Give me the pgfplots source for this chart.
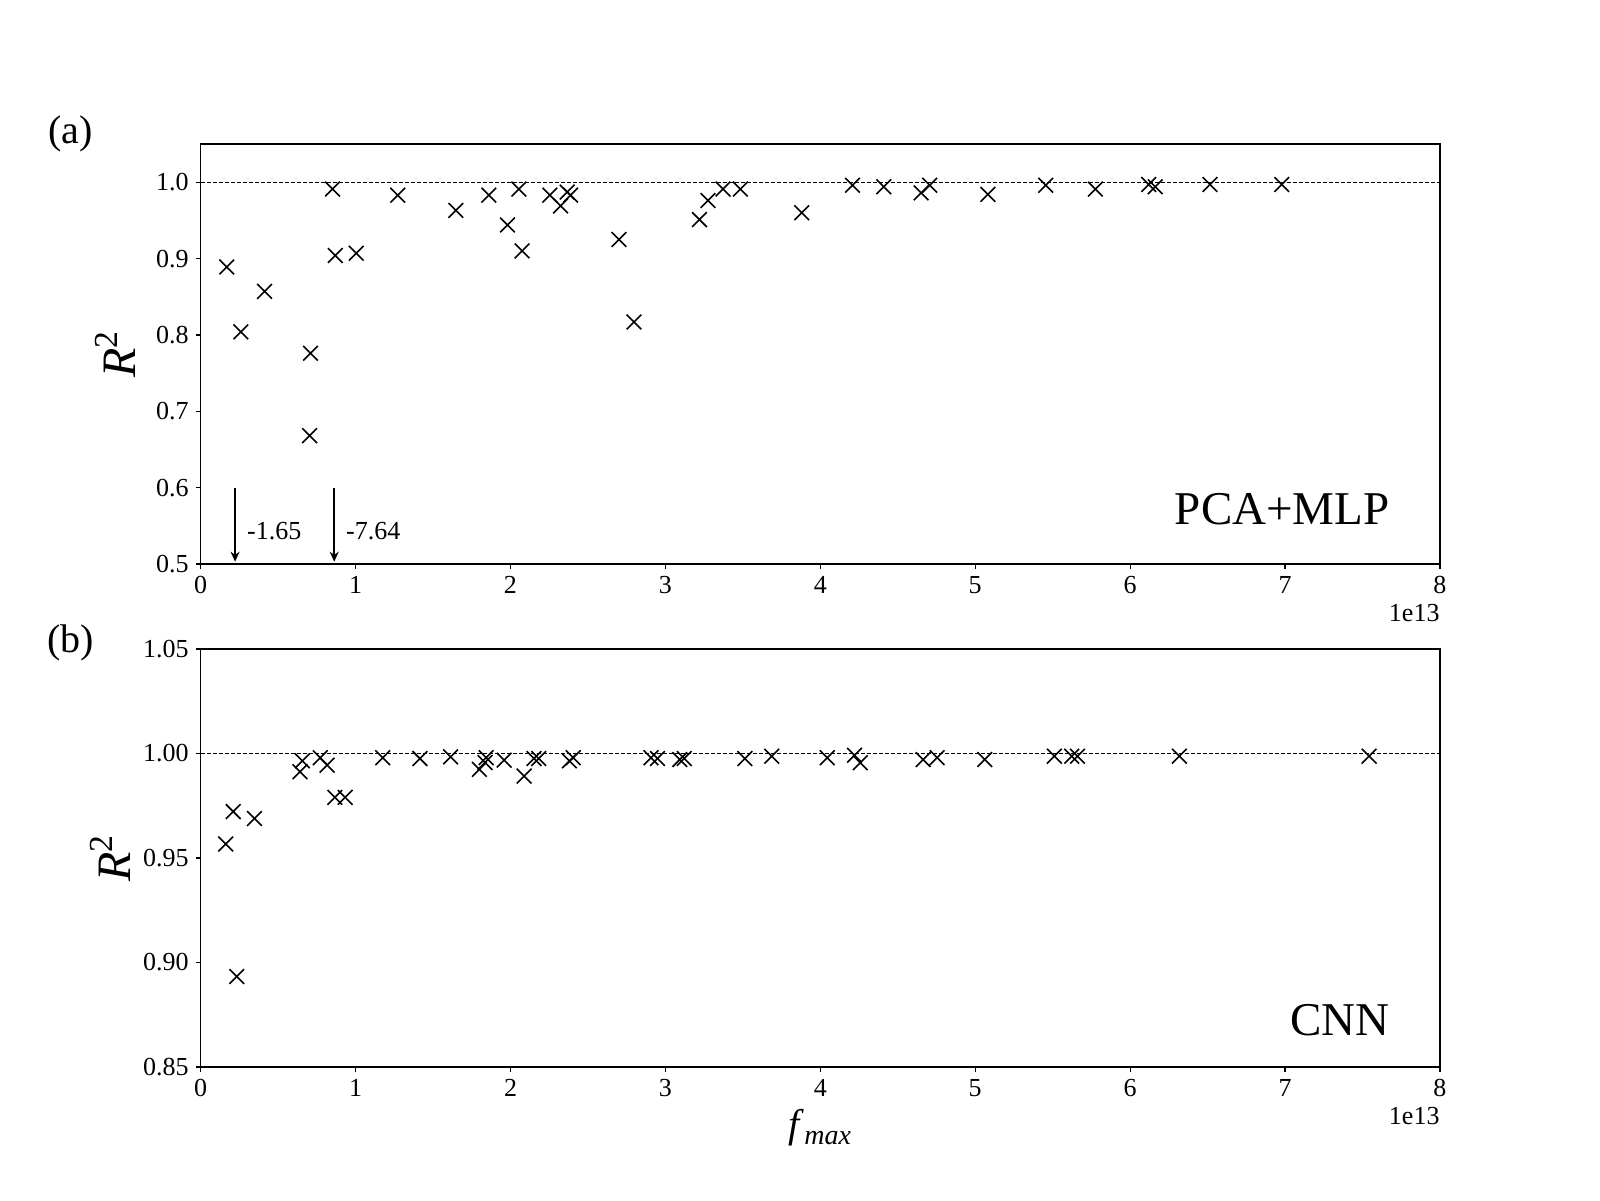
\documentclass[border=0pt]{standalone}
\usepackage{fontspec}
\setmainfont{Liberation Serif}
\usepackage{pgfplots}
\pgfplotsset{compat=1.18}
\usetikzlibrary{arrows.meta}

\pgfplotsset{
  panel/.style={
    scale only axis,
    width=619.6pt,
    anchor=south west,
    clip=false,
    xmin=0, xmax=8,
    xtick={0,1,...,8},
    axis line style={line width=0.6pt},
    tick style={black, line width=0.6pt, major tick length=2.5pt},
    tick align=outside,
    xtick pos=bottom, ytick pos=left,
    tick label style={font=\fontsize{13}{15}\selectfont},
    /pgf/number format/assume math mode=true,
    ylabel style={at={(rel axis cs:0,0.5)}, anchor=center,
                  font=\fontsize{24}{26}\selectfont},
  },
  pts/.style={only marks, mark=x, mark size=5.2pt, black,
              mark options={line width=0.8pt}},
  ref/.style={black, line width=0.55pt, dash pattern=on 2pt off 1pt},
}
\tikzset{
  arr/.style={line width=1.1pt, -{Stealth[length=5pt,width=4.5pt]}},
  small/.style={anchor=west, inner sep=0pt, font=\fontsize{13}{15}\selectfont},
}

\begin{document}
\begin{tikzpicture}
\path[use as bounding box] (0,0) rectangle (800pt,600pt);

% (a) PCA+MLP
\begin{axis}[panel,
  at={(100.35pt,318pt)}, height=210pt,
  ymin=0.5, ymax=1.05,
  ytick={0.5,0.6,0.7,0.8,0.9,1.0},
  yticklabel style={/pgf/number format/.cd, fixed, fixed zerofill, precision=1},
  ylabel={\textit{R}\textsuperscript{2}},
  ylabel style={yshift=42.5pt},
]
\addplot[ref] coordinates {(0,1) (8,1)};
\addplot[pts] coordinates {
  (0.168,0.889) (0.259,0.804) (0.412,0.857) (0.709,0.776) (0.703,0.668)
  (0.851,0.991) (0.869,0.904) (1.004,0.907) (1.272,0.983) (1.647,0.963)
  (1.860,0.983) (1.981,0.944) (2.054,0.991) (2.075,0.910) (2.254,0.983)
  (2.323,0.969) (2.366,0.987) (2.388,0.983) (2.700,0.925) (2.797,0.817)
  (3.220,0.951) (3.275,0.976) (3.372,0.991) (3.484,0.991) (3.880,0.960)
  (4.208,0.996) (4.410,0.994) (4.651,0.986) (4.706,0.996) (5.082,0.984)
  (5.455,0.996) (5.776,0.991) (6.120,0.997) (6.162,0.994) (6.516,0.997)
  (6.979,0.997)
};
\draw[arr] (axis cs:0.222,0.600) -- (axis cs:0.222,0.503);
\draw[arr] (axis cs:0.862,0.600) -- (axis cs:0.862,0.503);
\node[small] at (axis cs:0.297,0.543) {-1.65};
\node[small] at (axis cs:0.937,0.543) {-7.64};
\node[anchor=east, inner sep=0pt, font=\fontsize{23.5}{26}\selectfont] at (rel axis cs:0.9597,0.130) {PCA+MLP};
\node[anchor=east, inner sep=0pt, font=\fontsize{13}{15}\selectfont, yshift=-24.3pt] at (rel axis cs:1,0) {1e13};
\node[inner sep=0pt, font=\fontsize{20}{22}\selectfont, xshift=-65pt, yshift=5pt] at (rel axis cs:0,1) {(a)};
\end{axis}

% (b) CNN
\begin{axis}[panel,
  at={(100.35pt,66.5pt)}, height=209pt,
  ymin=0.85, ymax=1.05,
  ytick={0.85,0.90,0.95,1.00,1.05},
  yticklabel style={/pgf/number format/.cd, fixed, fixed zerofill, precision=2},
  ylabel={\textit{R}\textsuperscript{2}},
  ylabel style={yshift=45pt},
  xlabel={\textit{f}\textsubscript{\textit{max}}},
  xlabel style={at={(rel axis cs:0.5,0)}, anchor=center, yshift=-30.5pt,
                font=\fontsize{20}{22}\selectfont},
]
\addplot[ref] coordinates {(0,1) (8,1)};
\addplot[pts] coordinates {
  (0.161,0.9567) (0.210,0.9722) (0.233,0.8933) (0.347,0.9689) (0.641,0.9913)
  (0.656,0.9965) (0.772,0.9980) (0.816,0.9944) (0.866,0.9790) (0.933,0.9790)
  (1.175,0.9980) (1.415,0.9976) (1.613,0.9984) (1.799,0.9924) (1.836,0.9957)
  (1.843,0.9980) (1.959,0.9968) (2.088,0.9892) (2.152,0.9976) (2.182,0.9976)
  (2.380,0.9965) (2.405,0.9980) (2.907,0.9980) (2.949,0.9976) (3.093,0.9971)
  (3.122,0.9976) (3.513,0.9976) (3.687,0.9987) (4.045,0.9980) (4.221,0.9992)
  (4.258,0.9956) (4.664,0.9971) (4.754,0.9980) (5.062,0.9971) (5.511,0.9987)
  (5.623,0.9987) (5.660,0.9987) (6.318,0.9987) (7.543,0.9987)
};
\node[anchor=east, inner sep=0pt, font=\fontsize{23.5}{26}\selectfont] at (rel axis cs:0.9595,0.1115) {CNN};
\node[anchor=east, inner sep=0pt, font=\fontsize{13}{15}\selectfont, yshift=-24.3pt] at (rel axis cs:1,0) {1e13};
\node[inner sep=0pt, font=\fontsize{20}{22}\selectfont, xshift=-65pt, yshift=3pt] at (rel axis cs:0,1) {(b)};
\end{axis}
\end{tikzpicture}
\end{document}
